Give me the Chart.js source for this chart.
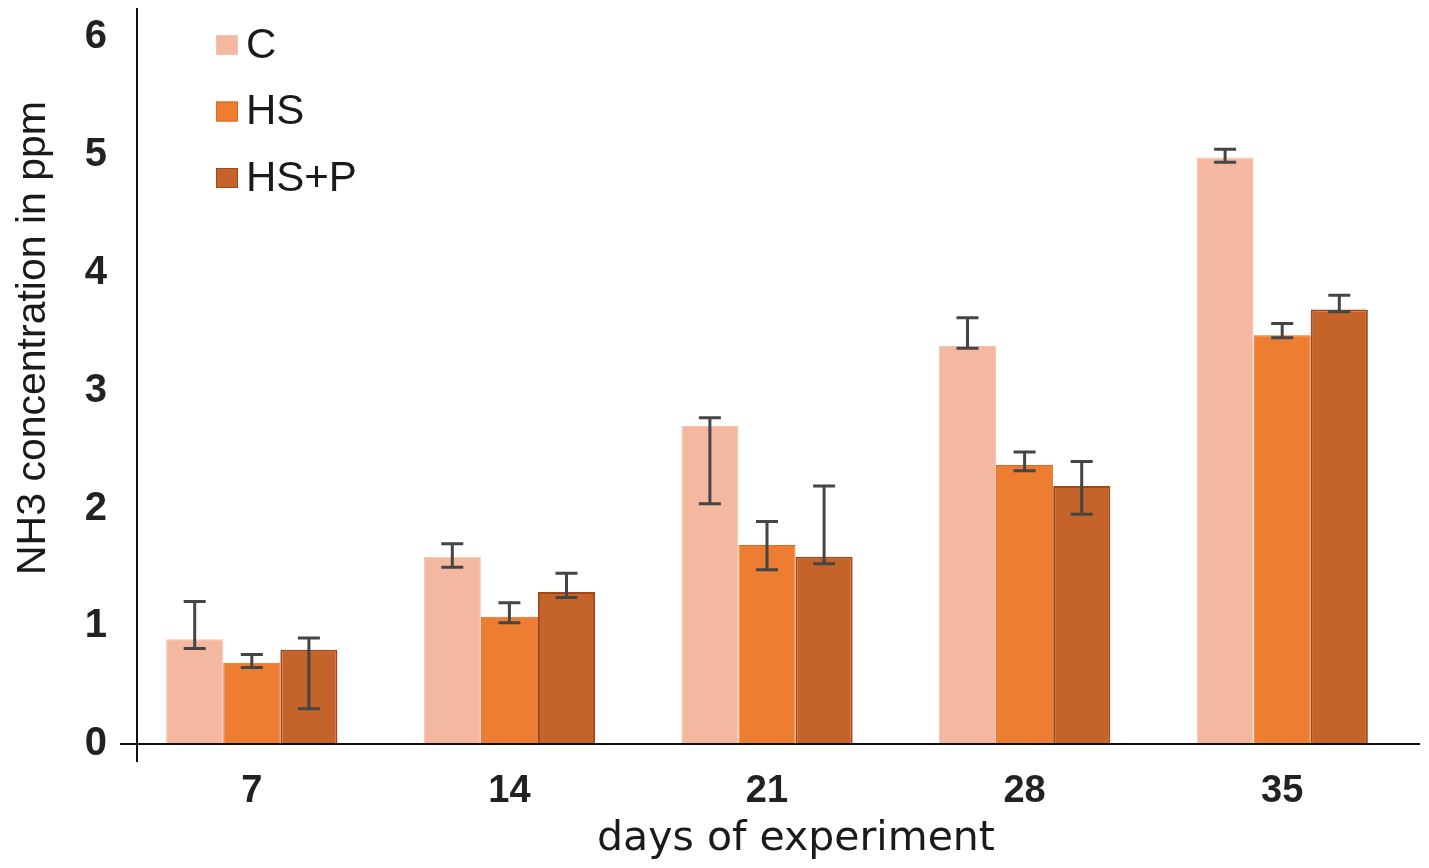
<!DOCTYPE html>
<html>
<head>
<meta charset="utf-8">
<script src="https://cdn.jsdelivr.net/npm/chart.js@4"></script>
<style>
html,body{margin:0;padding:0;background:#fff;}
#wrap{position:relative;width:1429px;height:868px;}
</style>
</head>
<body>
<div id="wrap"><canvas id="c" width="1429" height="868"></canvas></div>
<script>
const categories = ['7', '14', '21', '28', '35'];
const seriesNames = ['C', 'HS', 'HS+P'];
const valuesC   = [0.89, 1.59, 2.70, 3.38, 4.98];
const valuesHS  = [0.69, 1.08, 1.69, 2.37, 3.47];
const valuesHSP = [0.80, 1.29, 1.59, 2.19, 3.69];
const errLowC   = [0.81, 1.50, 2.04, 3.36, 4.94];
const errHighC  = [1.21, 1.70, 2.77, 3.62, 5.05];
const errLowHS  = [0.65, 1.03, 1.48, 2.32, 3.45];
const errHighHS = [0.76, 1.20, 1.89, 2.48, 3.57];
const errLowHSP = [0.30, 1.245, 1.53, 1.95, 3.67];
const errHighHSP= [0.90, 1.45, 2.19, 2.40, 3.81];
const yTicks = [0, 1, 2, 3, 4, 5, 6];
const xTitle = 'days of experiment';
const yTitle = 'NH3 concentration in ppm';

const FONT = '"Liberation Sans", Arial, sans-serif';

const errorBars = {
  id: 'errorBars',
  afterDatasetsDraw(chart) {
    const ctx = chart.ctx;
    const y = chart.scales.y;
    chart.data.datasets.forEach((ds, di) => {
      const meta = chart.getDatasetMeta(di);
      meta.data.forEach((bar, i) => {
        const x = bar.x;
        const yl = y.getPixelForValue(ds.errLow[i]);
        const yh = y.getPixelForValue(ds.errHigh[i]);
        ctx.save();
        ctx.strokeStyle = '#454545';
        ctx.lineWidth = 3;
        ctx.beginPath();
        ctx.moveTo(x, yl); ctx.lineTo(x, yh);
        ctx.moveTo(x - 11, yl); ctx.lineTo(x + 11, yl);
        ctx.moveTo(x - 11, yh); ctx.lineTo(x + 11, yh);
        ctx.stroke();
        ctx.restore();
      });
    });
  }
};

const axesTitlesLegend = {
  id: 'axesTitlesLegend',
  afterDraw(chart) {
    const ctx = chart.ctx;
    const xs = chart.scales.x, ys = chart.scales.y;
    ctx.save();
    // axis lines
    ctx.strokeStyle = '#111';
    ctx.lineWidth = 2;
    const axisX = xs.left + 14;
    const y0 = ys.getPixelForValue(0);
    ctx.beginPath();
    ctx.moveTo(axisX, ys.top);
    ctx.lineTo(axisX, y0 + 18);
    ctx.moveTo(xs.left - 3, y0);
    ctx.lineTo(xs.right + 9, y0);
    ctx.stroke();
    // axis titles
    ctx.fillStyle = '#1a1a1a';
    ctx.textAlign = 'center';
    ctx.textBaseline = 'alphabetic';
    ctx.font = '41px "DejaVu Sans", sans-serif';
    ctx.fillText(xTitle, 796, 850);
    ctx.save();
    ctx.translate(45, 338);
    ctx.rotate(-Math.PI / 2);
    ctx.font = '41px ' + FONT;
    ctx.fillText(yTitle, 0, 0);
    ctx.restore();
    // legend
    ctx.textAlign = 'left';
    ctx.font = '42px ' + FONT;
    ctx.textBaseline = 'middle';
    chart.data.datasets.forEach((ds, i) => {
      const cy = 45 + i * 66.5;
      ctx.fillStyle = ds.backgroundColor;
      ctx.fillRect(216, cy - 10, 22, 20);
      ctx.strokeStyle = ds.borderColor;
      ctx.lineWidth = 1;
      ctx.strokeRect(216.5, cy - 9.5, 21, 19);
      ctx.fillStyle = '#1a1a1a';
      ctx.fillText(ds.label, 246, cy + 1);
    });
    ctx.restore();
  }
};

new Chart(document.getElementById('c'), {
  type: 'bar',
  data: {
    labels: categories,
    datasets: [
      { label: seriesNames[0], data: valuesC, errLow: errLowC, errHigh: errHighC,
        backgroundColor: '#F4B8A0', borderColor: '#F6C4AE', borderWidth: 1 },
      { label: seriesNames[1], data: valuesHS, errLow: errLowHS, errHigh: errHighHS,
        backgroundColor: '#ED7D31', borderColor: '#DD6A22', borderWidth: 1 },
      { label: seriesNames[2], data: valuesHSP, errLow: errLowHSP, errHigh: errHighHSP,
        backgroundColor: '#C5642A', borderColor: '#A4461A', borderWidth: 2 }
    ]
  },
  options: {
    responsive: false,
    animation: false,
    devicePixelRatio: 1,
    layout: { padding: { left: 0, right: 18, top: 8, bottom: 0 } },
    datasets: { bar: { categoryPercentage: 0.665, barPercentage: 1.0 } },
    plugins: { legend: { display: false }, tooltip: { enabled: false } },
    scales: {
      x: {
        grid: { display: false, drawTicks: false },
        border: { display: false },
        ticks: { color: '#222', padding: 25, font: { family: FONT, size: 38, weight: 'bold' } },
        title: { display: false, text: xTitle },
        afterFit(s) { s.height = 124; s.paddingLeft = 0; s.paddingRight = 0; }
      },
      y: {
        min: 0, max: 6.25,
        afterBuildTicks(s) { s.ticks = yTicks.map(v => ({ value: v })); },
        grid: { display: false, drawTicks: false },
        border: { display: false },
        ticks: { color: '#222', padding: 16, font: { family: FONT, size: 40, weight: 'bold' } },
        title: { display: false, text: yTitle },
        afterFit(s) { s.width = 123; s.paddingTop = 0; s.paddingBottom = 0; }
      }
    }
  },
  plugins: [errorBars, axesTitlesLegend]
});
</script>
</body>
</html>
